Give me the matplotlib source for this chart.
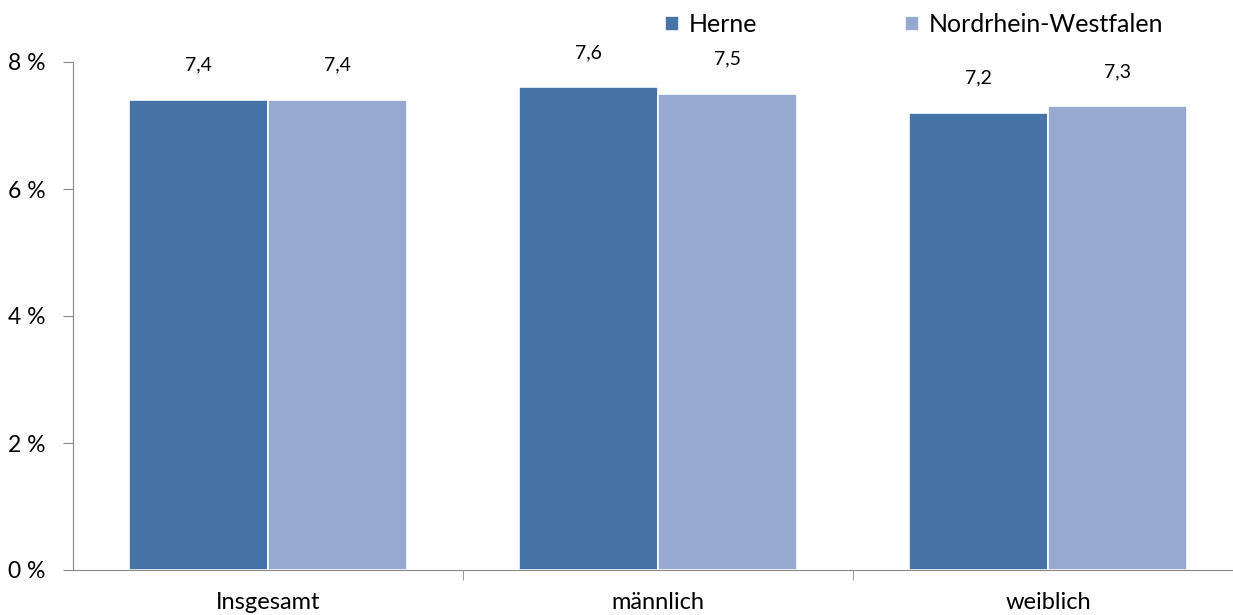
import matplotlib.pyplot as plt
import numpy as np

categories = ["Insgesamt", "männlich", "weiblich"]
herne = [7.4, 7.6, 7.2]
nrw = [7.4, 7.5, 7.3]
series_names = ["Herne", "Nordrhein-Westfalen"]
y_ticks = [0, 2, 4, 6, 8]

plt.rcParams['font.family'] = ['Lato', 'DejaVu Sans']

fig = plt.figure(figsize=(12.33, 6.15), dpi=100)
ax = fig.add_axes([73 / 1233, 45 / 615, 1170 / 1233, 508 / 615])

x = np.arange(len(categories))
w = 0.356
b1 = ax.bar(x - w / 2, herne, w, color="#4573A7", edgecolor="white", linewidth=1.2, label=series_names[0])
b2 = ax.bar(x + w / 2, nrw, w, color="#95A9D1", edgecolor="white", linewidth=1.2, label=series_names[1])

for bars, vals in ((b1, herne), (b2, nrw)):
    for r, v in zip(bars, vals):
        ax.annotate(f"{v:.1f}".replace(".", ","), (r.get_x() + r.get_width() / 2, v),
                    xytext=(0, 19), textcoords="offset points", ha="center", va="bottom", fontsize=14)

ax.set_xlim(-0.5, 2.5)
ax.set_ylim(0, 8)
ax.set_yticks(y_ticks)
ax.set_yticklabels([f"{t} %" for t in y_ticks], fontsize=16.5, ha="left")
ax.tick_params(axis="y", pad=40, length=7, color="#888888")
ax.set_xticks(x)
ax.set_xticklabels(categories, fontsize=17)
ax.set_xticks([0.5, 1.5], minor=True)
ax.tick_params(axis="x", which="major", length=0, pad=16)
ax.tick_params(axis="x", which="minor", length=7, color="#888888", direction="out")
for s in ("top", "right"):
    ax.spines[s].set_visible(False)
for s in ("left", "bottom"):
    ax.spines[s].set_color("#888888")

ax.legend(loc="upper left", bbox_to_anchor=(660 / 1233, 1 - 8 / 615), bbox_transform=fig.transFigure,
          borderaxespad=0, borderpad=0.2,
          ncol=2, frameon=False, fontsize=18, handlelength=0.55, handleheight=0.55,
          handletextpad=0.4, columnspacing=5.9)

fig.savefig("out.png", dpi=100)
